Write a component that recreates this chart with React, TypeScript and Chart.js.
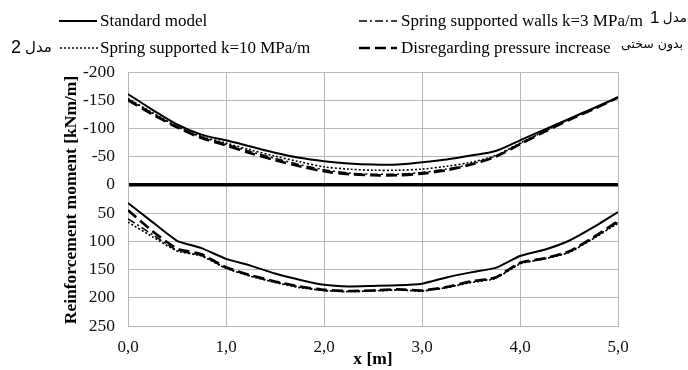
import React, { useEffect, useRef } from "react";
import { Chart, registerables } from "chart.js";

Chart.register(...registerables);

// ---- data ----
const xPositions = [0, 0.25, 0.5, 0.75, 1, 1.25, 1.5, 1.75, 2, 2.25, 2.5, 2.75, 3, 3.25, 3.5, 3.75, 4, 4.25, 4.5, 4.75, 5];

const standardUpper = [-161, -133, -107, -89, -79, -68, -57, -48, -42, -38, -36, -36, -40, -45, -52, -60, -79, -98, -117, -136, -155];
const standardLower = [32, 66, 99, 112, 131, 143, 157, 168, 177, 180, 179, 178, 175, 164, 155, 147, 126, 115, 99, 75, 48];

const k3Upper = [-152, -127, -103, -85, -72, -59, -47, -36, -27, -21, -19, -19, -22, -28, -37, -51, -73, -95, -116, -135, -155];
const k3Lower = [60, 88, 116, 125, 147, 161, 172, 181, 187, 189, 187, 186, 188, 182, 172, 165, 139, 131, 119, 94, 66];

const k10Upper = [-153, -128, -104, -86, -74, -62, -51, -41, -32, -28, -26, -26, -28, -33, -40, -52, -74, -95, -116, -135, -155];
const k10Lower = [66, 92, 117, 126, 148, 162, 173, 182, 187, 189, 188, 186, 188, 182, 173, 166, 140, 131, 120, 95, 68];

const noPressureUpper = [-150, -125, -102, -83, -70, -56, -44, -33, -24, -19, -17, -17, -20, -26, -36, -50, -72, -94, -115, -134, -155];
const noPressureLower = [45, 82, 113, 123, 146, 160, 171, 180, 186, 188, 187, 185, 187, 181, 171, 164, 138, 130, 118, 93, 64];

const seriesLabels = [
  "Standard model",
  "Spring supported walls k=3 MPa/m",
  "Spring supported k=10 MPa/m",
  "Disregarding pressure increase",
];
const noteModel1 = ["1", "مدل"];
const noteModel2 = ["2", "مدل"];
const noteNoStiffness = "بدون سختی";

const xTickValues = [0, 1, 2, 3, 4, 5];
const yTickValues = [-200, -150, -100, -50, 0, 50, 100, 150, 200, 250];
const xTitle = "x [m]";
const yTitle = "Reinforcement moment [kNm/m]";

// ---- styles ----
const seriesStyles = [
  { width: 2, dash: [] as number[] },
  { width: 1.5, dash: [8, 3, 2, 3] },
  { width: 1.6, dash: [2, 2] },
  { width: 2.6, dash: [11, 5] },
];

const toPoints = (arr: number[]) => xPositions.map((x, i) => ({ x, y: arr[i] }));

export default function App() {
  const ref = useRef<HTMLCanvasElement | null>(null);

  useEffect(() => {
    if (!ref.current) return;
    const pairs = [
      [standardUpper, standardLower],
      [k3Upper, k3Lower],
      [k10Upper, k10Lower],
      [noPressureUpper, noPressureLower],
    ];
    const datasets: any[] = [];
    pairs.forEach((pair, si) => {
      pair.forEach((arr, pi) => {
        datasets.push({
          label: seriesLabels[si] + (pi === 0 ? "" : " (lower)"),
          data: toPoints(arr),
          borderColor: "#000",
          borderWidth: seriesStyles[si].width,
          borderDash: seriesStyles[si].dash,
          pointRadius: 0,
          tension: pi === 0 ? 0.3 : 0.15,
          fill: false,
        });
      });
    });

    const serif = '"Liberation Serif", "Times New Roman", serif';
    const sans = '"Liberation Sans", "DejaVu Sans", sans-serif';
    const arabic = '"DejaVu Sans", "Noto Sans", sans-serif';

    const overlay = {
      id: "overlay",
      afterDraw(chart: any) {
        const ctx = chart.ctx as CanvasRenderingContext2D;
        ctx.save();
        ctx.fillStyle = "#000";
        ctx.strokeStyle = "#000";
        // axis titles
        ctx.font = `bold 17.5px ${serif}`;
        ctx.textAlign = "center";
        ctx.textBaseline = "middle";
        ctx.fillText(xTitle, 373, 359);
        ctx.save();
        ctx.translate(71, 200);
        ctx.rotate(-Math.PI / 2);
        ctx.fillText(yTitle, 0, 0);
        ctx.restore();

        // legend
        const rows = [
          { si: 0, lx: 59, tx: 100, y: 21 },
          { si: 1, lx: 359, tx: 401, y: 21 },
          { si: 2, lx: 60, tx: 100, y: 48 },
          { si: 3, lx: 359, tx: 401, y: 48 },
        ];
        ctx.textAlign = "left";
        rows.forEach((r) => {
          const st = seriesStyles[r.si];
          ctx.beginPath();
          ctx.lineWidth = st.width;
          ctx.setLineDash(st.dash);
          ctx.moveTo(r.lx, r.y);
          ctx.lineTo(r.lx + 38, r.y);
          ctx.stroke();
          ctx.setLineDash([]);
          ctx.font = `17px ${serif}`;
          ctx.fillText(seriesLabels[r.si], r.tx, r.y + 1);
        });

        // Persian notes (top right)
        ctx.font = `17px ${sans}`;
        ctx.fillText(noteModel1[0], 650, 18);
        ctx.textAlign = "right";
        ctx.font = `13.5px ${arabic}`;
        ctx.fillText(noteModel1[1], 687, 18);
        ctx.font = `12.5px ${arabic}`;
        ctx.fillText(noteNoStiffness, 683, 45);
        // Persian notes (left)
        ctx.textAlign = "left";
        ctx.font = `18px ${sans}`;
        ctx.fillText(noteModel2[0], 11, 48);
        ctx.font = `15px ${arabic}`;
        ctx.fillText(noteModel2[1], 25, 48);
        ctx.restore();
      },
    };

    const gridGray = "#b8b8b8";
    const chart = new Chart(ref.current, {
      type: "line",
      data: { datasets },
      options: {
        animation: false,
        responsive: false,
        maintainAspectRatio: false,
        layout: { padding: { left: 0, top: 72, right: 70, bottom: 0 } },
        plugins: { legend: { display: false }, tooltip: { enabled: false } },
        scales: {
          x: {
            type: "linear",
            min: 0,
            max: 5,
            afterBuildTicks: (s: any) => {
              s.ticks = xTickValues.map((v) => ({ value: v }));
            },
            afterFit: (s: any) => {
              s.height = 44;
            },
            ticks: {
              padding: 11,
              color: "#111",
              font: { family: serif, size: 17 },
              callback: (v: any) => Number(v).toFixed(1).replace(".", ","),
            },
            grid: { color: gridGray, lineWidth: 1, drawTicks: false },
            border: { color: gridGray, width: 1 },
          },
          y: {
            type: "linear",
            min: -200,
            max: 250,
            reverse: true,
            afterBuildTicks: (s: any) => {
              s.ticks = yTickValues.map((v) => ({ value: v }));
            },
            afterFit: (s: any) => {
              s.width = 128;
            },
            ticks: {
              padding: 13,
              color: "#111",
              font: { family: serif, size: 17.5 },
              callback: (v: any) => String(v),
            },
            grid: {
              color: (c: any) => (c.tick && c.tick.value === 0 ? "#000" : gridGray),
              lineWidth: (c: any) => (c.tick && c.tick.value === 0 ? 3.5 : 1),
              drawTicks: false,
            },
            border: { color: gridGray, width: 1 },
          },
        },
      },
      plugins: [overlay],
    });
    return () => chart.destroy();
  }, []);

  return (
    <div style={{ position: "absolute", left: 0, top: 0, width: 688, height: 370, background: "#fff" }}>
      <canvas ref={ref} width={688} height={370} style={{ width: 688, height: 370, display: "block" }} />
    </div>
  );
}
